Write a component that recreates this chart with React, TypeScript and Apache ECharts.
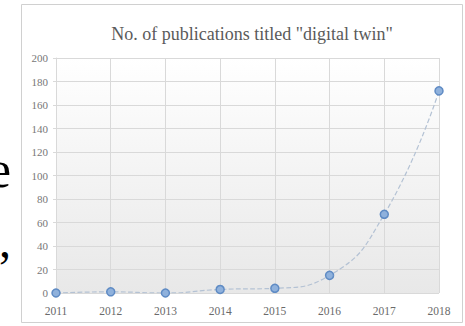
import React, { useEffect, useRef } from "react";
import * as echarts from "echarts";

const years = ["2011", "2012", "2013", "2014", "2015", "2016", "2017", "2018"];
const publications = [0, 1, 0, 3, 4, 15, 67, 172];
const yTicks = [0, 20, 40, 60, 80, 100, 120, 140, 160, 180, 200];
const chartTitle = 'No. of publications titled "digital twin"';

export default function App() {
  const ref = useRef<HTMLDivElement>(null);
  useEffect(() => {
    if (!ref.current) return;
    const chart = echarts.init(ref.current, null, { renderer: "svg" });
    const serif = "Liberation Serif";
    chart.setOption({
      animation: false,
      backgroundColor: "#ffffff",
      textStyle: { fontFamily: serif },
      title: {
        text: chartTitle,
        left: 247,
        top: 20,
        textAlign: "center",
        textStyle: { fontFamily: serif, fontSize: 18, fontWeight: "normal", color: "#5a5a5a" },
      },
      graphic: [
        {
          type: "rect",
          z: -10,
          shape: { x: 21.5, y: 4.5, width: 441, height: 318 },
          style: { fill: "#ffffff", stroke: "#d0d0d0", lineWidth: 1 },
        },
        {
          type: "text",
          x: -12,
          y: 143,
          style: { text: "e", fontFamily: serif, fontSize: 52, fill: "#000" },
        },
        {
          type: "text",
          x: -1,
          y: 216,
          style: { text: ",", fontFamily: serif, fontSize: 48, fill: "#000" },
        },
      ],
      grid: {
        left: 56,
        right: 26,
        top: 58,
        bottom: 33,
        show: true,
        borderWidth: 0,
        backgroundColor: new echarts.graphic.LinearGradient(0, 0, 0, 1, [
          { offset: 0, color: "#ffffff" },
          { offset: 1, color: "#e8e8e8" },
        ]),
      },
      xAxis: {
        type: "category",
        data: years,
        boundaryGap: false,
        axisLine: { show: false },
        axisTick: { show: false },
        axisLabel: { fontFamily: "Liberation Serif, serif", fontSize: 11.5, color: "#6a6a6a", margin: 12 },
        splitLine: { show: true, lineStyle: { color: "#d9d9d9", width: 1 } },
      },
      yAxis: {
        type: "value",
        min: yTicks[0],
        max: yTicks[yTicks.length - 1],
        interval: 20,
        axisLine: { show: true, lineStyle: { color: "#d9d9d9" } },
        axisTick: { show: true, length: 3, lineStyle: { color: "#d9d9d9" } },
        axisLabel: { fontFamily: "Liberation Serif, serif", fontSize: 11, color: "#777", margin: 8 },
        splitLine: { show: true, lineStyle: { color: "#d9d9d9", width: 1 } },
      },
      series: [
        {
          type: "line",
          data: publications,
          smooth: true,
          symbol: "circle",
          symbolSize: 8,
          lineStyle: { color: "#b4c2d4", width: 1.2, type: "dashed" },
          itemStyle: { color: "#8fb1dc", borderColor: "#5f8bc4", borderWidth: 1.5 },
        },
      ],
    });
    return () => chart.dispose();
  }, []);
  return (
    <div
      ref={ref}
      style={{ position: "fixed", left: 0, top: 0, width: 465, height: 326 }}
    />
  );
}
